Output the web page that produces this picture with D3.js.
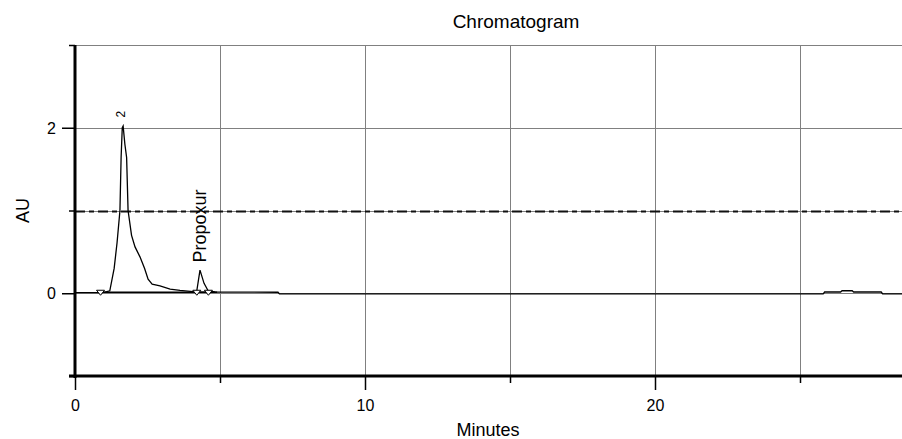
<!DOCTYPE html>
<html>
<head>
<meta charset="utf-8">
<script src="https://cdn.jsdelivr.net/npm/d3@7"></script>
<style>
  body { margin: 0; background: #fff; }
  text { font-family: Arial, "Liberation Sans", sans-serif; fill: #000; }
</style>
</head>
<body>
<div id="chart-area"></div>
<script>
// trace (minutes, AU)
var times = [0, 0.8, 1.0, 1.2, 1.35, 1.45, 1.55, 1.59, 1.63, 1.66, 1.72, 1.78, 1.83, 1.95, 2.07, 2.24, 2.4, 2.52, 2.66, 2.93, 3.28, 3.62, 4.07, 4.2, 4.31, 4.45, 4.59, 4.83, 7.0, 7.05, 25.8, 25.85, 26.4, 26.45, 26.8, 26.85, 27.8, 27.85, 28.6];
var au = [0.008, 0.008, 0.01, 0.03, 0.3, 0.61, 1.0, 1.64, 2.0, 2.02, 1.8, 1.64, 1.0, 0.7, 0.56, 0.44, 0.3, 0.17, 0.11, 0.09, 0.05, 0.035, 0.02, 0.03, 0.28, 0.12, 0.03, 0.015, 0.012, -0.008, -0.008, 0.015, 0.015, 0.03, 0.03, 0.015, 0.015, -0.008, -0.008];

// peak labels
var peakNames = ["2", "Propoxur"];
var peakTimes = [1.66, 4.33];
var peakTops = [2.05, 0.3];

// integration marks
var baseStart = [0.9, 4.15];
var baseEnd = [4.9, 4.65];
var markerTimes = [0.88, 4.2, 4.6];

var xMajor = [0, 10, 20];
var xMinor = [5, 15, 25];
var yMajor = [0, 2];
var yMinor = [-1, 1, 3];

var width = 902, height = 439;
var margin = { left: 75, right: 0, top: 45, bottom: 63 };

var svg = d3.select("#chart-area")
	.append("svg")
	.attr("width", width)
	.attr("height", height);

var x = d3.scaleLinear()
	.domain([0, (width - margin.left) / 29])
	.range([margin.left, width]);

var y = d3.scaleLinear()
	.domain([-1, 3])
	.range([height - margin.bottom, margin.top]);

// Grid
var grid = svg.append("g").attr("class", "grid");

grid.selectAll("line.v")
	.data(xMajor.concat(xMinor).filter(function (d) { return d > 0; }))
	.enter()
	.append("line")
	.attr("class", "v")
	.attr("x1", function (d) { return Math.round(x(d)) + 0.5; })
	.attr("x2", function (d) { return Math.round(x(d)) + 0.5; })
	.attr("y1", y(3))
	.attr("y2", y(-1))
	.attr("stroke", "#808080")
	.attr("stroke-width", 1);

grid.selectAll("line.h")
	.data([0, 1, 2, 3])
	.enter()
	.append("line")
	.attr("class", "h")
	.attr("x1", x(0))
	.attr("x2", width)
	.attr("y1", function (d) { return Math.round(y(d)) + 0.5; })
	.attr("y2", function (d) { return Math.round(y(d)) + 0.5; })
	.attr("stroke", "#808080")
	.attr("stroke-width", 1);

// threshold line at 1 AU
svg.append("line")
	.attr("x1", x(0))
	.attr("x2", width)
	.attr("y1", Math.round(y(1)) + 0.5)
	.attr("y2", Math.round(y(1)) + 0.5)
	.attr("stroke", "#111")
	.attr("stroke-width", 2)
	.attr("stroke-dasharray", "10,4,5,4");

// Axes
var xAxis = d3.axisBottom(x)
	.tickValues(xMajor)
	.tickSize(14)
	.tickFormat(d3.format("d"));

var xAxisG = svg.append("g")
	.attr("transform", "translate(0," + y(-1) + ")")
	.call(xAxis);

xAxisG.selectAll("text")
	.attr("dy", 0)
	.attr("y", 35)
	.style("font-size", "16px");

svg.append("g")
	.attr("transform", "translate(0," + y(-1) + ")")
	.call(d3.axisBottom(x).tickValues(xMinor).tickSize(7).tickFormat(""))
	.select(".domain").remove();

var yAxis = d3.axisLeft(y)
	.tickValues(yMajor)
	.tickSize(13)
	.tickFormat(d3.format("d"));

var yAxisG = svg.append("g")
	.attr("transform", "translate(" + x(0) + ",0)")
	.call(yAxis);

yAxisG.selectAll("text")
	.attr("x", -19)
	.attr("dy", "0.35em")
	.style("font-size", "16px");

svg.append("g")
	.attr("transform", "translate(" + x(0) + ",0)")
	.call(d3.axisLeft(y).tickValues(yMinor).tickSize(6).tickFormat(""))
	.select(".domain").remove();

svg.selectAll(".domain").remove();
svg.selectAll(".tick line").attr("stroke", "#000").attr("stroke-width", 1.5);

// heavy frame lines
svg.append("line")
	.attr("x1", x(0) - 6).attr("x2", width)
	.attr("y1", y(-1)).attr("y2", y(-1))
	.attr("stroke", "#000").attr("stroke-width", 3);

svg.append("line")
	.attr("x1", x(0)).attr("x2", x(0))
	.attr("y1", y(3)).attr("y2", y(-1) + 2)
	.attr("stroke", "#000").attr("stroke-width", 3);

// Integration baselines
svg.selectAll("line.base")
	.data(baseStart)
	.enter()
	.append("line")
	.attr("class", "base")
	.attr("x1", function (d) { return x(d); })
	.attr("x2", function (d, i) { return x(baseEnd[i]); })
	.attr("y1", y(0.012))
	.attr("y2", y(0.012))
	.attr("stroke", "#000")
	.attr("stroke-width", 1.5);

// Trace
var traceData = times.map(function (t, i) { return [t, au[i]]; });

var line = d3.line()
	.x(function (d) { return x(d[0]); })
	.y(function (d) { return y(d[1]); });

svg.append("path")
	.datum(traceData)
	.attr("d", line)
	.attr("fill", "none")
	.attr("stroke", "#000")
	.attr("stroke-width", 1.3);

// markers
svg.selectAll("path.marker")
	.data(markerTimes)
	.enter()
	.append("path")
	.attr("class", "marker")
	.attr("d", function (d) {
		var cx = x(d), cy = y(0);
		return "M" + (cx - 4) + "," + (cy - 3) + "L" + (cx + 4) + "," + (cy - 3) + "L" + cx + "," + (cy + 2) + "Z";
	})
	.attr("fill", "#fff")
	.attr("stroke", "#000")
	.attr("stroke-width", 1);

// Peak labels
svg.selectAll("text.peak")
	.data(peakNames)
	.enter()
	.append("text")
	.attr("class", "peak")
	.attr("transform", function (d, i) {
		var px = x(peakTimes[i]) + (i === 0 ? 2 : 5);
		var py = y(peakTops[i]) - 6;
		return "translate(" + px + "," + py + ") rotate(-90)";
	})
	.attr("text-anchor", "start")
	.style("font-size", function (d, i) { return i === 0 ? "12px" : "18px"; })
	.text(function (d) { return d; });

// Title
svg.append("text")
	.attr("x", 516)
	.attr("y", 28)
	.attr("text-anchor", "middle")
	.style("font-size", "19px")
	.text("Chromatogram");

// X Label
svg.append("text")
	.attr("x", 488)
	.attr("y", 436)
	.attr("text-anchor", "middle")
	.style("font-size", "18px")
	.text("Minutes");

// Y Label
svg.append("text")
	.attr("transform", "translate(29," + y(1) + ") rotate(-90)")
	.attr("text-anchor", "middle")
	.style("font-size", "18px")
	.text("AU");
</script>
</body>
</html>
